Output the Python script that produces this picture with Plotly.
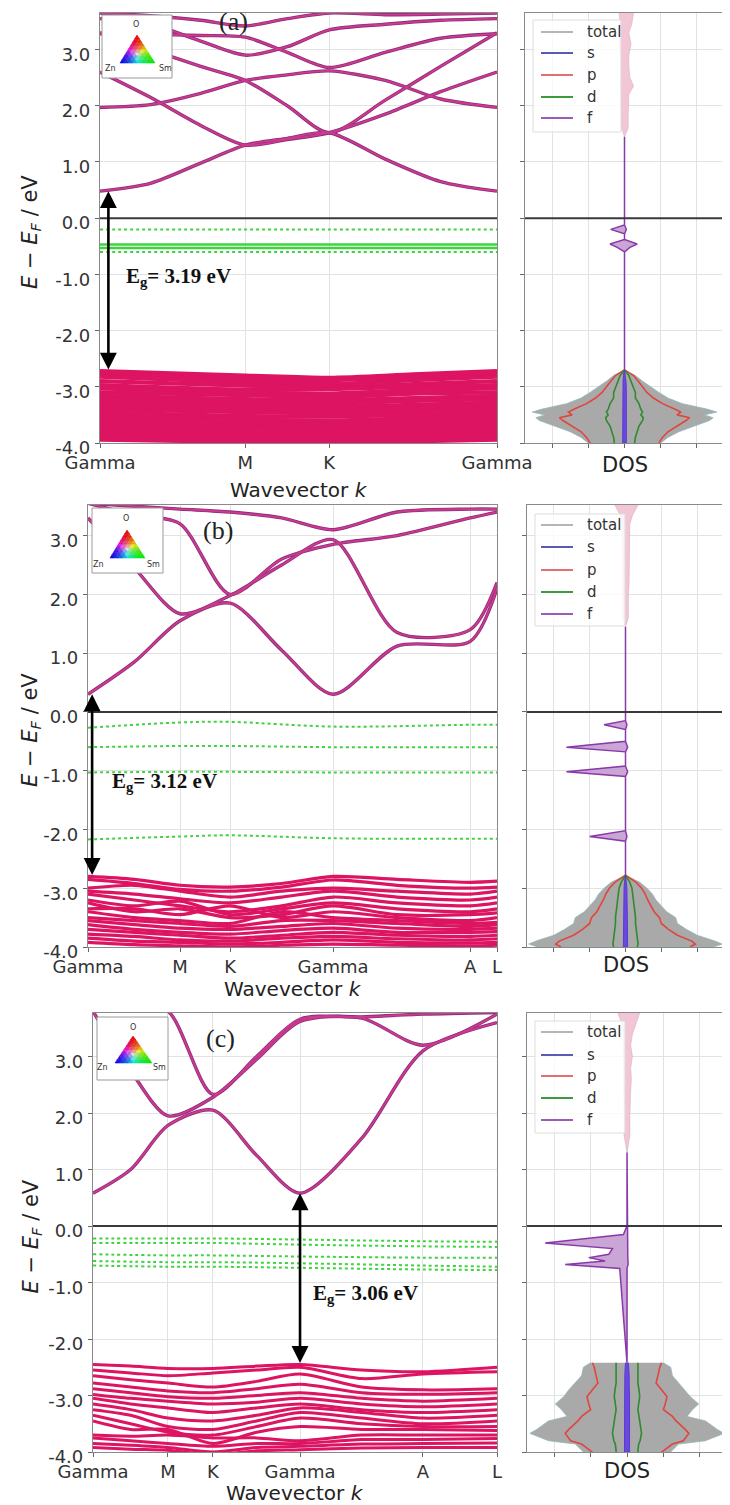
import plotly.graph_objects as go

# the page body has an 8px margin: the figure is sized to fit inside it
OFF = 8
W, H = 730 - OFF, 1505 - OFF

# ===================== DATA =====================
Y_TICKS = [-4, -3, -2, -1, 0, 1, 2, 3]
Y_TICKTEXT = ["-4.0", "-3.0", "-2.0", "-1.0", "0.0", "1.0", "2.0", "3.0"]
DOS_TICKS = [-2, -1, 0, 1, 2]
PANEL_TAGS = ["(a)", "(b)", "(c)"]
GAP_VALUES = ["3.19", "3.12", "3.06"]
LEGEND_NAMES = ["total", "s", "p", "d", "f"]

# ---------- panel (a): Gamma-M-K-Gamma ----------
A_KTICKS = [0.0, 0.866, 1.366, 2.366]
A_KLABELS = ["Gamma", "M", "K", "Gamma"]
A_K_CB = [0.0, 0.30, 0.60, 0.866, 1.116, 1.366, 1.70, 2.03, 2.366]
A_CB = [
    [0.48, 0.62, 0.98, 1.30, 1.42, 1.52, 1.05, 0.65, 0.48],
    [2.60, 2.15, 1.65, 1.30, 1.40, 1.52, 1.85, 2.25, 2.60],
    [1.97, 2.02, 2.22, 2.45, 2.55, 2.62, 2.45, 2.12, 1.97],
    [3.30, 3.00, 2.70, 2.45, 2.00, 1.52, 2.10, 2.70, 3.30],
    [3.28, 3.27, 3.25, 3.22, 2.95, 2.68, 2.95, 3.20, 3.28],
    [3.55, 3.45, 3.15, 2.90, 3.05, 3.35, 3.45, 3.52, 3.55],
    [3.65, 3.60, 3.52, 3.42, 3.55, 3.65, 3.62, 3.63, 3.65],
]
A_K_VB = [0.0, 0.866, 1.366, 1.866, 2.366]
A_VB = [
    [-2.72, -2.80, -2.84, -2.78, -2.72],
    [-2.76, -2.86, -2.88, -2.82, -2.76],
    [-2.82, -2.92, -2.95, -2.88, -2.82],
    [-2.90, -2.98, -3.00, -2.95, -2.90],
    [-2.97, -3.05, -3.04, -3.00, -2.97],
    [-3.03, -3.10, -3.12, -3.06, -3.03],
    [-3.10, -3.15, -3.18, -3.12, -3.10],
    [-3.16, -3.22, -3.24, -3.20, -3.16],
    [-3.22, -3.28, -3.30, -3.25, -3.22],
    [-3.28, -3.34, -3.36, -3.32, -3.28],
    [-3.34, -3.40, -3.41, -3.38, -3.34],
    [-3.40, -3.45, -3.47, -3.44, -3.40],
    [-3.46, -3.52, -3.53, -3.50, -3.46],
    [-3.52, -3.58, -3.60, -3.56, -3.52],
    [-3.58, -3.64, -3.65, -3.62, -3.58],
    [-3.64, -3.70, -3.71, -3.68, -3.64],
    [-3.70, -3.76, -3.77, -3.74, -3.70],
    [-3.76, -3.82, -3.83, -3.80, -3.76],
    [-3.82, -3.88, -3.89, -3.86, -3.82],
    [-3.88, -3.93, -3.95, -3.92, -3.88],
    [-3.94, -3.98, -4.00, -3.97, -3.94],
]
A_K_DEF = [0.0, 0.866, 1.366, 2.366]
A_DEF = [
    [-0.20, -0.20, -0.20, -0.20],
    [-0.47, -0.47, -0.47, -0.47],
    [-0.53, -0.53, -0.53, -0.53],
    [-0.60, -0.60, -0.60, -0.60],
]
A_GAP = [0.05, 0.48, -2.72]          # k, CBM, VBM
A_GAP_LABEL_POS = [0.47, -1.05]
A_DOS_E = [-2.70, -2.80, -2.90, -3.00, -3.10, -3.20, -3.30, -3.40, -3.45, -3.50, -3.55, -3.60, -3.70, -3.80, -3.90, -4.00]
A_DOS_TOT = [0.00, 0.30, 0.50, 0.72, 0.95, 1.20, 1.60, 2.30, 2.55, 2.20, 2.45, 2.35, 1.90, 1.50, 1.20, 1.00]
A_DOS_P = [0.00, 0.25, 0.38, 0.50, 0.62, 0.80, 1.05, 1.40, 1.55, 1.45, 1.80, 1.70, 1.45, 1.20, 1.05, 0.95]
A_DOS_D = [0.00, 0.12, 0.18, 0.25, 0.30, 0.30, 0.40, 0.45, 0.50, 0.45, 0.52, 0.50, 0.40, 0.35, 0.30, 0.28]
A_DOS_S = [0.00, 0.03, 0.04, 0.05, 0.05, 0.05, 0.06, 0.06, 0.06, 0.06, 0.06, 0.06, 0.06, 0.05, 0.05, 0.05]
A_F_E = [1.45, 0.0, -0.12, -0.20, -0.28, -0.38, -0.46, -0.52, -0.60, -0.70, -2.70]
A_F_L = [0.0, 0.0, 0.0, 0.38, 0.0, 0.0, 0.40, 0.20, 0.0, 0.0, 0.0]
A_F_R = [0.0, 0.0, 0.0, 0.05, 0.0, 0.0, 0.35, 0.15, 0.0, 0.0, 0.0]
A_CD_E = [3.65, 3.45, 3.30, 3.10, 2.90, 2.70, 2.50, 2.35, 2.20, 2.00, 1.80, 1.60, 1.45]
A_CD_L = [0.15, 0.12, 0.10, 0.15, 0.10, 0.10, 0.10, 0.12, 0.10, 0.10, 0.08, 0.08, 0.0]
A_CD_R = [0.25, 0.20, 0.12, 0.18, 0.12, 0.12, 0.15, 0.25, 0.12, 0.10, 0.10, 0.10, 0.0]

# ---------- panel (b): Gamma-M-K-Gamma-A-L ----------
B_KTICKS = [0.0, 0.893, 1.379, 2.379, 3.71, 3.97]
B_KLABELS = ["Gamma", "M", "K", "Gamma", "A", "L"]
B_K_CB = [0.0, 0.45, 0.893, 1.379, 1.88, 2.379, 3.0, 3.71, 3.97]
B_CB = [
    [0.30, 0.85, 1.55, 1.85, 1.05, 0.30, 1.12, 1.20, 2.10],
    [3.30, 2.45, 1.67, 1.98, 2.50, 2.93, 1.35, 1.40, 2.20],
    [3.55, 3.35, 3.20, 2.00, 2.60, 2.85, 3.00, 3.30, 3.40],
    [3.55, 3.50, 3.45, 3.40, 3.30, 3.10, 3.40, 3.45, 3.45],
]
B_K_VB = [0.0, 0.45, 0.893, 1.379, 1.88, 2.379, 3.0, 3.71, 3.97]
B_VB = [
    [-2.80, -2.85, -2.95, -2.98, -2.92, -2.80, -2.85, -2.90, -2.88],
    [-2.85, -2.92, -3.02, -3.05, -2.98, -2.86, -2.95, -3.00, -2.98],
    [-3.00, -2.95, -3.05, -3.15, -3.05, -3.00, -3.05, -3.10, -3.05],
    [-3.05, -3.10, -3.18, -3.25, -3.15, -3.05, -3.15, -3.20, -3.15],
    [-3.10, -3.20, -3.30, -3.40, -3.30, -3.15, -3.25, -3.30, -3.25],
    [-3.20, -3.30, -3.22, -3.45, -3.35, -3.25, -3.35, -3.40, -3.35],
    [-3.25, -3.40, -3.35, -3.50, -3.45, -3.30, -3.45, -3.45, -3.42],
    [-3.35, -3.35, -3.45, -3.30, -3.50, -3.40, -3.50, -3.55, -3.50],
    [-3.40, -3.50, -3.55, -3.60, -3.40, -3.50, -3.55, -3.60, -3.58],
    [-3.50, -3.55, -3.60, -3.65, -3.55, -3.55, -3.60, -3.65, -3.62],
    [-3.55, -3.62, -3.68, -3.70, -3.65, -3.60, -3.68, -3.70, -3.68],
    [-3.62, -3.70, -3.75, -3.78, -3.72, -3.68, -3.75, -3.75, -3.74],
    [-3.70, -3.75, -3.80, -3.85, -3.80, -3.75, -3.80, -3.82, -3.80],
    [-3.78, -3.82, -3.88, -3.90, -3.85, -3.82, -3.86, -3.88, -3.86],
    [-3.85, -3.90, -3.92, -3.95, -3.92, -3.88, -3.92, -3.93, -3.92],
    [-3.92, -3.96, -3.98, -4.00, -3.97, -3.95, -3.97, -3.98, -3.97],
]
B_K_DEF = [0.0, 0.893, 1.379, 2.379, 3.71, 3.97]
B_DEF = [
    [-0.27, -0.18, -0.17, -0.25, -0.22, -0.22],
    [-0.60, -0.58, -0.58, -0.60, -0.60, -0.60],
    [-1.03, -1.02, -1.02, -1.03, -1.03, -1.03],
    [-2.17, -2.12, -2.10, -2.15, -2.16, -2.16],
]
B_GAP = [0.04, 0.30, -2.80]
B_GAP_LABEL_POS = [0.74, -1.20]
B_DOS_E = [-2.78, -2.90, -3.00, -3.10, -3.20, -3.30, -3.40, -3.50, -3.60, -3.70, -3.80, -3.90, -3.95, -4.00]
B_DOS_TOT = [0.00, 0.40, 0.60, 0.75, 0.85, 1.00, 1.15, 1.40, 1.45, 1.70, 2.00, 2.50, 2.70, 2.45]
B_DOS_P = [0.00, 0.30, 0.45, 0.55, 0.62, 0.70, 0.80, 0.95, 1.00, 1.20, 1.45, 1.85, 1.95, 1.80]
B_DOS_D = [0.00, 0.12, 0.18, 0.20, 0.22, 0.25, 0.25, 0.28, 0.28, 0.30, 0.32, 0.35, 0.35, 0.33]
B_DOS_S = [0.00, 0.03, 0.04, 0.04, 0.05, 0.05, 0.05, 0.05, 0.05, 0.06, 0.06, 0.06, 0.06, 0.06]
B_F_E = [1.45, 0.0, -0.15, -0.22, -0.30, -0.50, -0.60, -0.68, -0.92, -1.02, -1.10, -2.02, -2.12, -2.20, -2.78]
B_F_L = [0.0, 0.0, 0.0, 0.60, 0.0, 0.0, 1.65, 0.0, 0.0, 1.65, 0.0, 0.0, 1.00, 0.0, 0.0]
B_F_R = [0.0, 0.0, 0.0, 0.04, 0.0, 0.0, 0.06, 0.0, 0.0, 0.06, 0.0, 0.0, 0.04, 0.0, 0.0]
B_CD_E = [3.52, 3.35, 3.20, 3.00, 2.80, 2.60, 2.40, 2.20, 2.00, 1.80, 1.60, 1.45]
B_CD_L = [0.30, 0.15, 0.10, 0.10, 0.10, 0.10, 0.10, 0.10, 0.08, 0.08, 0.08, 0.0]
B_CD_R = [0.35, 0.20, 0.12, 0.12, 0.10, 0.10, 0.10, 0.10, 0.08, 0.08, 0.08, 0.0]

# ---------- panel (c): Gamma-M-K-Gamma-A-L ----------
C_KTICKS = [0.0, 0.857, 1.371, 2.366, 3.771, 4.617]
C_KLABELS = ["Gamma", "M", "K", "Gamma", "A", "L"]
C_K_CB = [0.0, 0.43, 0.857, 1.371, 1.87, 2.366, 3.07, 3.771, 4.617]
C_CB = [
    [0.58, 1.00, 1.78, 2.05, 1.25, 0.58, 1.55, 3.10, 3.60],
    [3.80, 2.75, 1.95, 2.28, 2.95, 3.62, 3.68, 3.20, 3.75],
    [3.95, 3.90, 3.80, 2.33, 3.00, 3.66, 3.70, 3.75, 3.78],
]
C_K_VB = [0.0, 0.43, 0.857, 1.371, 1.87, 2.366, 3.07, 3.771, 4.617]
C_VB = [
    [-2.45, -2.48, -2.52, -2.52, -2.48, -2.45, -2.55, -2.58, -2.50],
    [-2.55, -2.60, -2.65, -2.60, -2.55, -2.50, -2.70, -2.62, -2.58],
    [-2.65, -2.72, -2.78, -2.85, -2.75, -2.62, -2.85, -2.90, -2.88],
    [-2.78, -2.85, -2.92, -2.95, -2.88, -2.80, -2.95, -2.98, -2.95],
    [-2.88, -2.95, -3.02, -3.05, -3.00, -2.95, -3.05, -3.10, -3.05],
    [-2.98, -3.05, -3.10, -3.15, -3.12, -3.05, -3.15, -3.20, -3.15],
    [-3.05, -3.15, -3.22, -3.30, -3.22, -3.15, -3.25, -3.30, -3.25],
    [-3.15, -3.25, -3.40, -3.45, -3.35, -3.22, -3.30, -3.40, -3.35],
    [-3.25, -3.35, -3.55, -3.60, -3.45, -3.30, -3.40, -3.50, -3.45],
    [-3.35, -3.50, -3.65, -3.70, -3.55, -3.40, -3.50, -3.55, -3.55],
    [-3.45, -3.60, -3.60, -3.85, -3.65, -3.55, -3.60, -3.60, -3.62],
    [-3.70, -3.72, -3.70, -3.75, -3.75, -3.80, -3.70, -3.70, -3.70],
    [-3.75, -3.80, -3.85, -3.90, -3.85, -3.85, -3.78, -3.78, -3.76],
    [-3.85, -3.88, -3.92, -4.00, -3.92, -3.90, -3.86, -3.85, -3.84],
    [-3.92, -3.95, -3.97, -4.05, -3.98, -3.96, -3.93, -3.92, -3.92],
]
C_K_DEF = [0.0, 0.857, 1.371, 2.366, 3.771, 4.617]
C_DEF = [
    [-0.22, -0.22, -0.22, -0.24, -0.27, -0.28],
    [-0.30, -0.30, -0.30, -0.33, -0.36, -0.37],
    [-0.50, -0.52, -0.52, -0.54, -0.56, -0.56],
    [-0.62, -0.64, -0.64, -0.66, -0.70, -0.72],
    [-0.70, -0.72, -0.72, -0.74, -0.77, -0.78],
]
C_GAP = [2.366, 0.58, -2.45]
C_GAP_LABEL_POS = [3.11, -1.20]
C_DOS_E = [-2.42, -2.50, -2.65, -2.78, -2.90, -3.02, -3.15, -3.25, -3.37, -3.45, -3.60, -3.67, -3.80, -3.86, -3.98, -4.00]
C_DOS_TOT = [1.00, 1.20, 1.25, 1.42, 1.60, 1.74, 1.97, 1.80, 1.65, 2.16, 2.48, 2.67, 2.16, 1.42, 1.23, 1.20]
C_DOS_P = [0.95, 0.90, 0.85, 0.80, 0.95, 1.10, 1.05, 1.00, 1.25, 1.35, 1.60, 1.70, 1.55, 1.25, 1.00, 0.95]
C_DOS_D = [0.30, 0.30, 0.32, 0.30, 0.33, 0.35, 0.32, 0.30, 0.33, 0.35, 0.38, 0.40, 0.36, 0.32, 0.30, 0.30]
C_DOS_S = [0.04, 0.05, 0.06, 0.06, 0.07, 0.07, 0.07, 0.07, 0.08, 0.08, 0.08, 0.08, 0.08, 0.07, 0.07, 0.07]
C_F_E = [1.30, 0.0, -0.15, -0.30, -0.40, -0.50, -0.56, -0.62, -0.68, -0.75, -2.42]
C_F_L = [0.0, 0.0, 0.10, 2.25, 0.40, 0.50, 1.05, 0.60, 1.70, 0.20, 0.0]
C_F_R = [0.0, 0.0, 0.0, 0.02, 0.02, 0.02, 0.03, 0.02, 0.03, 0.0, 0.0]
C_CD_E = [3.77, 3.60, 3.40, 3.20, 3.00, 2.80, 2.60, 2.40, 2.20, 2.00, 1.80, 1.60, 1.30]
C_CD_L = [0.25, 0.15, 0.10, 0.10, 0.10, 0.10, 0.10, 0.10, 0.08, 0.08, 0.08, 0.08, 0.0]
C_CD_R = [0.35, 0.25, 0.15, 0.10, 0.15, 0.10, 0.12, 0.10, 0.08, 0.08, 0.08, 0.08, 0.0]

# ===================== STYLE / LAYOUT =====================
FONT = "DejaVu Sans, Verdana, sans-serif"
SERIF = "Liberation Serif, Times New Roman, serif"
CB_COLOR = "#cc3a8e"
CB_EDGE = "#8e2c7c"
VB_COLOR = "#dd1462"
DEF_COLOR = "#3fd43f"
LEG_COLORS = ["#b5b5b5", "#5a5ab8", "#e07070", "#3f9a3f", "#9a5cb8"]

panels = [
    dict(kt=A_KTICKS, kl=A_KLABELS, kcb=A_K_CB, cb=A_CB, kvb=A_K_VB, vb=A_VB, vbw=4.2,
         kdef=A_K_DEF, dfs=A_DEF, def_dash=["dot", "solid", "solid", "dot"],
         gap=A_GAP, gpos=A_GAP_LABEL_POS,
         de=A_DOS_E, tot=A_DOS_TOT, p=A_DOS_P, d=A_DOS_D, s=A_DOS_S,
         fe=A_F_E, fl=A_F_L, fr=A_F_R, ce=A_CD_E, cl=A_CD_L, cr=A_CD_R,
         bx=(100, 497), dx=(525, 724), py=(13, 443), yr=(-4.0, 3.65),
         xlab_y=490, dos_lab_y=465,
         inset=dict(box=(102, 15, 172, 78), apex=(137, 35), bl=(120, 63), br=(155, 63),
                    o=(136, 25), zn=(110, 69), sm=(165, 69)),
         tag=(233, 22), leg=dict(box=(533, 20, 621, 132), ys=[32, 53, 75, 97, 118])),
    dict(kt=B_KTICKS, kl=B_KLABELS, kcb=B_K_CB, cb=B_CB, kvb=B_K_VB, vb=B_VB, vbw=3.2,
         kdef=B_K_DEF, dfs=B_DEF, def_dash=["dot", "dot", "dot", "dot"],
         gap=B_GAP, gpos=B_GAP_LABEL_POS,
         de=B_DOS_E, tot=B_DOS_TOT, p=B_DOS_P, d=B_DOS_D, s=B_DOS_S,
         fe=B_F_E, fl=B_F_L, fr=B_F_R, ce=B_CD_E, cl=B_CD_L, cr=B_CD_R,
         bx=(88, 497), dx=(527, 724), py=(505, 947), yr=(-4.0, 3.52),
         xlab_y=989, dos_lab_y=965,
         inset=dict(box=(92, 508, 163, 573), apex=(127, 530), bl=(110, 558), br=(145, 558),
                    o=(126, 519), zn=(98, 564), sm=(153, 564)),
         tag=(218, 530), leg=dict(box=(535, 514, 625, 626), ys=[525, 547, 570, 592, 614])),
    dict(kt=C_KTICKS, kl=C_KLABELS, kcb=C_K_CB, cb=C_CB, kvb=C_K_VB, vb=C_VB, vbw=3.0,
         kdef=C_K_DEF, dfs=C_DEF, def_dash=["dot", "dot", "dot", "dot", "dot"],
         gap=C_GAP, gpos=C_GAP_LABEL_POS,
         de=C_DOS_E, tot=C_DOS_TOT, p=C_DOS_P, d=C_DOS_D, s=C_DOS_S,
         fe=C_F_E, fl=C_F_L, fr=C_F_R, ce=C_CD_E, cl=C_CD_L, cr=C_CD_R,
         bx=(93, 497), dx=(527, 727), py=(1013, 1452), yr=(-4.0, 3.77),
         xlab_y=1493, dos_lab_y=1471,
         inset=dict(box=(97, 1017, 168, 1080), apex=(133, 1036), bl=(115, 1063), br=(152, 1063),
                    o=(133, 1027), zn=(102, 1067), sm=(159, 1067)),
         tag=(220, 1038), leg=dict(box=(535, 1021, 625, 1133), ys=[1032, 1055, 1076, 1098, 1120])),
]


def fx(px):
    return (px - OFF) / W


def fy(py):
    return 1 - (py - OFF) / H


def joined(kx, bands):
    xs, ys = [], []
    for b in bands:
        xs += list(kx) + [None]
        ys += list(b) + [None]
    return xs, ys


def label(x, y, text, size, family=FONT, color="#222", angle=0, xanchor="center", xref="paper", yref="paper"):
    return dict(x=x, y=y, xref=xref, yref=yref, showarrow=False, text=text, textangle=angle,
                xanchor=xanchor, yanchor="middle", font=dict(family=family, size=size, color=color))


fig = go.Figure()
shapes = []
annots = []

for i, P in enumerate(panels):
    bxn = "x" if i == 0 else f"x{2 * i + 1}"
    byn = "y" if i == 0 else f"y{2 * i + 1}"
    dxn = f"x{2 * i + 2}"
    dyn = f"y{2 * i + 2}"
    bxa = "xaxis" if i == 0 else f"xaxis{2 * i + 1}"
    bya = "yaxis" if i == 0 else f"yaxis{2 * i + 1}"
    dxa = f"xaxis{2 * i + 2}"
    dya = f"yaxis{2 * i + 2}"

    # ---- band structure ----
    xs, ys = joined(P["kvb"], P["vb"])
    fig.add_trace(go.Scatter(x=xs, y=ys, xaxis=bxn, yaxis=byn, mode="lines",
                             line=dict(color=VB_COLOR, width=P["vbw"], shape="spline", smoothing=0.8),
                             showlegend=False, hoverinfo="skip"))
    for band, dash in zip(P["dfs"], P["def_dash"]):
        fig.add_trace(go.Scatter(x=P["kdef"], y=band, xaxis=bxn, yaxis=byn, mode="lines",
                                 line=dict(color=DEF_COLOR, width=2 if dash == "dot" else 2.5, dash=dash,
                                           shape="spline"),
                                 showlegend=False, hoverinfo="skip"))
    xs, ys = joined(P["kcb"], P["cb"])
    fig.add_trace(go.Scatter(x=xs, y=ys, xaxis=bxn, yaxis=byn, mode="lines",
                             line=dict(color=CB_EDGE, width=3.4, shape="spline", smoothing=0.8),
                             showlegend=False, hoverinfo="skip"))
    fig.add_trace(go.Scatter(x=xs, y=ys, xaxis=bxn, yaxis=byn, mode="lines",
                             line=dict(color=CB_COLOR, width=1.8, shape="spline", smoothing=0.8),
                             showlegend=False, hoverinfo="skip"))

    # ---- DOS ----
    E = P["de"]
    tx = list(P["tot"]) + [-v for v in reversed(P["tot"])]
    ty = list(E) + list(reversed(E))
    fig.add_trace(go.Scatter(x=tx, y=ty, xaxis=dxn, yaxis=dyn, mode="lines", fill="toself",
                             fillcolor="#a9a9a9", line=dict(color="#8fb8b8", width=0.8),
                             showlegend=False, hoverinfo="skip"))
    cx = list(P["cr"]) + [-v for v in reversed(P["cl"])]
    cy = list(P["ce"]) + list(reversed(P["ce"]))
    fig.add_trace(go.Scatter(x=cx, y=cy, xaxis=dxn, yaxis=dyn, mode="lines", fill="toself",
                             fillcolor="#f2c6d6", line=dict(color="#d8b0c0", width=0.6),
                             showlegend=False, hoverinfo="skip"))
    for comp, col in ((P["p"], "#e0463c"), (P["d"], "#2e8b2e")):
        px_ = list(comp) + [None] + [-v for v in comp]
        py_ = list(E) + [None] + list(E)
        fig.add_trace(go.Scatter(x=px_, y=py_, xaxis=dxn, yaxis=dyn, mode="lines",
                                 line=dict(color=col, width=1.6), showlegend=False, hoverinfo="skip"))
    sx = list(P["s"]) + [-v for v in reversed(P["s"])]
    fig.add_trace(go.Scatter(x=sx, y=ty, xaxis=dxn, yaxis=dyn, mode="lines", fill="toself",
                             fillcolor="#6a48e0", line=dict(color="#5a3ad0", width=1),
                             showlegend=False, hoverinfo="skip"))
    fxs = [-v for v in P["fl"]] + list(reversed(P["fr"]))
    fys = list(P["fe"]) + list(reversed(P["fe"]))
    fig.add_trace(go.Scatter(x=fxs, y=fys, xaxis=dxn, yaxis=dyn, mode="lines", fill="toself",
                             fillcolor="#c9a6d6", line=dict(color="#8a3aa8", width=1.5),
                             showlegend=False, hoverinfo="skip"))

    # ---- axes ----
    common = dict(showline=True, linecolor="#8a8a8a", linewidth=1.2, mirror=True,
                  showgrid=True, gridcolor="#e2e2e2", gridwidth=1, zeroline=False,
                  ticks="outside", ticklen=4, tickcolor="#666", automargin=False,
                  tickfont=dict(family=FONT, size=18, color="#333"))
    fig.update_layout({
        bxa: dict(common, domain=[fx(P["bx"][0]), fx(P["bx"][1])], range=[P["kt"][0], P["kt"][-1]],
                  tickvals=P["kt"], ticktext=P["kl"], anchor=byn, ticklabelstandoff=-1),
        bya: dict(common, domain=[fy(P["py"][1]), fy(P["py"][0])], range=list(P["yr"]),
                  tickvals=Y_TICKS, ticktext=Y_TICKTEXT, anchor=bxn, ticklabelstandoff=1,
                  ticklabelshift=5),
        dxa: dict(common, domain=[fx(P["dx"][0]), fx(P["dx"][1])], range=[-2.75, 2.75],
                  tickvals=DOS_TICKS, showticklabels=False, anchor=dyn),
        dya: dict(common, domain=[fy(P["py"][1]), fy(P["py"][0])], range=list(P["yr"]),
                  tickvals=Y_TICKS, showticklabels=False, anchor=dxn),
    })

    for xr, yr_ in ((bxn, byn), (dxn, dyn)):
        shapes.append(dict(type="line", xref=f"{xr} domain", yref=yr_, x0=0, x1=1, y0=0, y1=0,
                           line=dict(color="#3a3a3a", width=2), layer="above"))

    kg, cbm, vbm = P["gap"]
    annots.append(dict(x=kg, y=cbm, ax=kg, ay=vbm, xref=bxn, yref=byn, axref=bxn, ayref=byn,
                       text="", showarrow=True, arrowhead=2, arrowsize=1.3, arrowwidth=2.6,
                       arrowside="end+start", startarrowhead=2, startarrowsize=1.3,
                       arrowcolor="black", standoff=0, startstandoff=0))
    annots.append(label(P["gpos"][0], P["gpos"][1], f"<b>E<sub>g</sub>= {GAP_VALUES[i]} eV</b>", 21,
                        family=SERIF, color="#111", xref=bxn, yref=byn))
    annots.append(label(fx(P["tag"][0]), fy(P["tag"][1]), PANEL_TAGS[i], 26, family=SERIF))
    annots.append(label(fx(31), fy((P["py"][0] + P["py"][1]) / 2 + 4),
                        "<i>E</i> − <i>E</i><sub><i>F</i></sub> / eV", 21, angle=-90))
    annots.append(label(fx((P["bx"][0] + P["bx"][1]) / 2), fy(P["xlab_y"]), "Wavevector <i>k</i>", 20))
    annots.append(label(fx((P["dx"][0] + P["dx"][1]) / 2), fy(P["dos_lab_y"]), "DOS", 21))

    # ---- ternary colour inset ----
    ins = P["inset"]
    x0, y0, x1, y1 = ins["box"]
    shapes.append(dict(type="rect", xref="paper", yref="paper", x0=fx(x0), x1=fx(x1), y0=fy(y1), y1=fy(y0),
                       line=dict(color="#9a9a9a", width=1), fillcolor="white", layer="above"))
    N = 8
    ax_, ay_ = ins["apex"]
    lx_, ly_ = ins["bl"]
    rx_, ry_ = ins["br"]

    def tpt(a, r):
        l = 1 - a - r
        return (a * ax_ + r * rx_ + l * lx_, a * ay_ + r * ry_ + l * ly_, a, r, l)

    for ia in range(N):
        for jr in range(N - ia):
            tris = [[(ia, jr), (ia + 1, jr), (ia, jr + 1)]]
            if ia + jr < N - 1:
                tris.append([(ia + 1, jr), (ia + 1, jr + 1), (ia, jr + 1)])
            for tri in tris:
                pts = [tpt(q[0] / N, q[1] / N) for q in tri]
                a = sum(p_[2] for p_ in pts) / 3
                r = sum(p_[3] for p_ in pts) / 3
                l = sum(p_[4] for p_ in pts) / 3
                m = max(a, r, l)
                col = f"rgb({int(230 * a / m)},{int(230 * r / m)},{int(230 * l / m)})"
                path = "M " + " L ".join(f"{fx(p_[0]):.5f},{fy(p_[1]):.5f}" for p_ in pts) + " Z"
                shapes.append(dict(type="path", xref="paper", yref="paper", path=path,
                                   fillcolor=col, line=dict(color=col, width=0.6), layer="above"))
    for key, txt in (("o", "O"), ("zn", "Zn"), ("sm", "Sm")):
        annots.append(label(fx(ins[key][0]), fy(ins[key][1]), txt, 8, color="#333"))

    lg = P["leg"]
    shapes.append(dict(type="rect", xref="paper", yref="paper", x0=fx(lg["box"][0]), x1=fx(lg["box"][2]),
                       y0=fy(lg["box"][3]), y1=fy(lg["box"][1]),
                       line=dict(color="#dddddd", width=1), fillcolor="rgba(255,255,255,0.8)", layer="above"))
    for name, col, yy in zip(LEGEND_NAMES, LEG_COLORS, lg["ys"]):
        shapes.append(dict(type="line", xref="paper", yref="paper", x0=fx(541), x1=fx(573),
                           y0=fy(yy), y1=fy(yy), line=dict(color=col, width=2), layer="above"))
        annots.append(label(fx(585), fy(yy), name, 15, color="#333", xanchor="left"))

fig.update_layout(width=W, height=H, margin=dict(l=0, r=0, t=0, b=0, autoexpand=False),
                  paper_bgcolor="white", plot_bgcolor="white",
                  shapes=shapes, annotations=annots, showlegend=False)

fig.write_html("out.html")
